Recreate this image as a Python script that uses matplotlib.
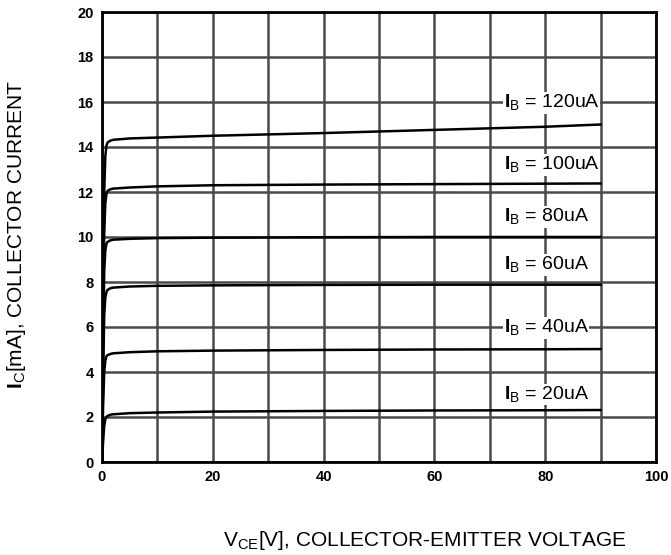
import matplotlib
matplotlib.use("Agg")
import matplotlib.pyplot as plt

plt.rcParams['font.family'] = ['Liberation Sans', 'DejaVu Sans']
plt.rcParams['mathtext.fontset'] = 'custom'
plt.rcParams['mathtext.rm'] = 'Liberation Sans'
plt.rcParams['mathtext.bf'] = 'Liberation Sans:bold'

# Data
vce = [0, 0.2, 0.4, 0.6, 0.8, 1.0, 1.5, 2, 5, 10, 20, 40, 60, 80, 90]
ic_20 = [0, 0.9, 1.6, 1.9, 2.0, 2.05, 2.1, 2.12, 2.17, 2.2, 2.24, 2.27, 2.29, 2.3, 2.31]
ic_40 = [0, 2.5, 4.0, 4.5, 4.7, 4.75, 4.8, 4.83, 4.88, 4.92, 4.95, 4.98, 5.0, 5.01, 5.02]
ic_60 = [0, 4.0, 6.5, 7.3, 7.55, 7.65, 7.72, 7.75, 7.8, 7.83, 7.85, 7.87, 7.88, 7.88, 7.88]
ic_80 = [0, 5.0, 8.5, 9.4, 9.7, 9.78, 9.85, 9.88, 9.92, 9.95, 9.97, 9.99, 10.0, 10.0, 10.0]
ic_100 = [0, 6.0, 10.2, 11.5, 11.9, 12.05, 12.12, 12.15, 12.2, 12.25, 12.3, 12.33, 12.35, 12.37, 12.38]
ic_120 = [0, 7.0, 12.0, 13.6, 14.05, 14.2, 14.28, 14.32, 14.38, 14.42, 14.5, 14.62, 14.76, 14.9, 15.0]
series = [ic_20, ic_40, ic_60, ic_80, ic_100, ic_120]
labels = ["20uA", "40uA", "60uA", "80uA", "100uA", "120uA"]
label_x = [72.5, 72.5, 72.5, 72.5, 72.5, 72.5]
label_y = [3.0, 5.95, 8.75, 10.9, 13.2, 15.95]

xticks = [0, 20, 40, 60, 80, 100]
yticks = [0, 2, 4, 6, 8, 10, 12, 14, 16, 18, 20]

fig = plt.figure(figsize=(6.71, 5.55), dpi=100)
ax = fig.add_axes([102/671, 1-462/555, (656-102)/671, (462-12)/555])
ax.set_xlim(0, 100)
ax.set_ylim(0, 20)
ax.set_xticks(xticks)
ax.set_yticks(yticks)
ax.set_xticks(range(10, 100, 20), minor=True)
ax.grid(True, which='both', color='#4a4a4a', linewidth=1.8, zorder=1)
ax.tick_params(which='both', length=0, pad=6)
for lab in ax.get_xticklabels() + ax.get_yticklabels():
    lab.set_fontweight('bold')
    lab.set_fontsize(10.5)
for s in ax.spines.values():
    s.set_linewidth(2)
    s.set_color('black')
    s.set_zorder(5)

for ic in series:
    ax.plot(vce, ic, color='black', linewidth=1.8, zorder=3)

for lab, lx, ly in zip(labels, label_x, label_y):
    ax.text(lx, ly, r'$\mathbf{I}_{\mathrm{B}}$ = ' + lab, fontsize=14, va='center', ha='left',
            zorder=4, bbox=dict(facecolor='white', edgecolor='none', pad=0.5))

fig.text(425/671, 1-541/555, r'$\mathrm{V}_{\mathrm{CE}}$[V], COLLECTOR-EMITTER VOLTAGE',
         fontsize=15, ha='center', va='center')
fig.text(17/671, 1-235/555, r'$\mathbf{I}_{\mathrm{C}}$[mA], COLLECTOR CURRENT',
         fontsize=15, ha='center', va='center', rotation=90)

fig.savefig('out.png', dpi=100)
